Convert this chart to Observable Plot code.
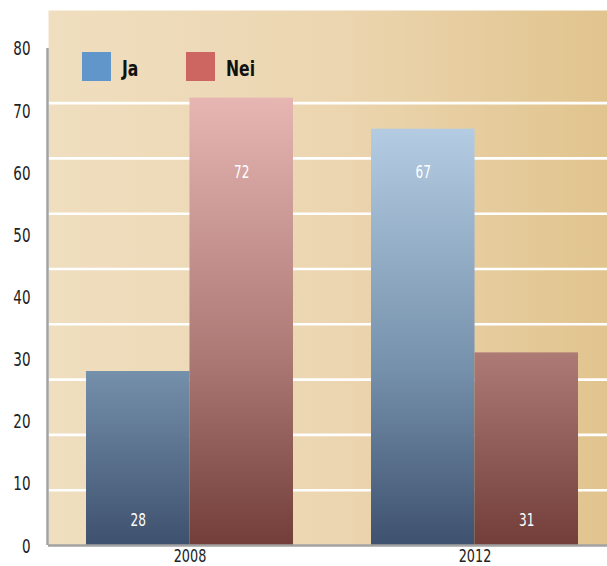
<!DOCTYPE html>
<html>
<head>
<meta charset="utf-8">
<script src="https://cdn.jsdelivr.net/npm/d3@7"></script>
<script src="https://cdn.jsdelivr.net/npm/@observablehq/plot@0.6"></script>
<style>
  body { margin: 0; background: #fff; }
  #wrap { position: relative; width: 607px; height: 566px; font-family: "Liberation Sans Narrow", "DejaVu Sans Condensed", "Arial Narrow", sans-serif; }
  #legend { position: absolute; left: 82px; top: 50px; display: flex; align-items: center; }
  .item { display: flex; align-items: center; margin-right: 44px; }
  .sw { width: 29px; height: 29px; margin-right: 11px; }
  .lab { display: inline-block; font-weight: bold; font-size: 22px; color: #111; line-height: 29px; padding-top: 4px; width: 20px; white-space: nowrap; transform: scaleX(0.79); transform-origin: left center; }
</style>
</head>
<body>
<div id="wrap"></div>
<script>
// ---- data ----
const years = ["2008", "2012"];
const series = ["Ja", "Nei"];
const jaValues = [28, 67];
const neiValues = [72, 31];
const yTicks = [0, 10, 20, 30, 40, 50, 60, 70, 80];
const gridValues = [8.9, 17.8, 26.7, 35.6, 44.5, 53.4, 62.3, 71.2];
const legendColors = ["#6096ca", "#cd6661"];

const rows = years.flatMap((yr, i) => [
  {year: yr, series: "Ja", value: jaValues[i]},
  {year: yr, series: "Nei", value: neiValues[i]}
]);

const W = 607, H = 566;
const mL = 48, mR = 0, mT = 10, mB = 21;
const xOpts = {type: "band", domain: years, range: [mL, W - mR], paddingInner: 0.274, paddingOuter: 0.1175, align: 0.56};
let bw = Plot.scale({x: xOpts}).bandwidth;
if (!bw) bw = d3.scaleBand(years, [mL, W - mR]).paddingInner(0.274).paddingOuter(0.1175).align(0.56).bandwidth();
const half = bw / 2;

const font = '"Liberation Sans Narrow", "DejaVu Sans Condensed", "Arial Narrow", sans-serif';

function defsMark(index, scales) {
  const y = (v) => scales && scales.y ? scales.y(v) : (H - mB) - v * 497 / 80;
  const top = y(d3.max(rows, d => d.value)), bot = y(0);
  const defs = d3.create("svg:defs");
  const bg = defs.append("linearGradient").attr("id", "bgGrad").attr("x1", 0).attr("x2", 1).attr("y1", 0).attr("y2", 0);
  [[0, "#efdebf"], [0.5, "#ecd6b1"], [1, "#e1c48e"]].forEach(([o, c]) => bg.append("stop").attr("offset", o).attr("stop-color", c));
  const mk = (id, stops) => {
    const g = defs.append("linearGradient").attr("id", id).attr("gradientUnits", "userSpaceOnUse")
      .attr("x1", 0).attr("x2", 0).attr("y1", top).attr("y2", bot);
    stops.forEach(([v, c]) => g.append("stop").attr("offset", (y(v) - top) / (bot - top)).attr("stop-color", c));
  };
  mk("gradJa", [[72, "#bcd4ea"], [28, "#7590ab"], [0, "#3e516e"]]);
  mk("gradNei", [[72, "#e7b6b2"], [31, "#ad7a76"], [0, "#733e39"]]);
  return defs.node();
}

function axisLine(index, scales) {
  const y = (v) => scales && scales.y ? scales.y(v) : (H - mB) - v * 497 / 80;
  const g = d3.create("svg:line")
    .attr("x1", mL - 0.5).attr("x2", mL - 0.5)
    .attr("y1", y(d3.max(yTicks))).attr("y2", y(0))
    .attr("stroke", "#a2a2a2").attr("stroke-width", 2.5);
  return g.node();
}

const labelY = d => d.value > 50 ? 60 : 4;

const plot = Plot.plot({
  width: W, height: H,
  marginLeft: mL, marginRight: mR, marginTop: mT, marginBottom: mB,
  style: {fontFamily: font, fontSize: "19px", color: "#222", background: "transparent", overflow: "visible"},
  x: {...xOpts, label: null},
  y: {domain: [0, 86.1], label: null},
  marks: [
    defsMark,
    Plot.frame({fill: "url(#bgGrad)", stroke: "none"}),
    Plot.ruleY(gridValues, {stroke: "#ffffff", strokeWidth: 2.6}),
    Plot.barY(rows.filter(d => d.series === "Ja"), {x: "year", y: "value", fill: "url(#gradJa)", insetRight: half}),
    Plot.barY(rows.filter(d => d.series === "Nei"), {x: "year", y: "value", fill: "url(#gradNei)", insetLeft: half}),
    Plot.text(rows.filter(d => d.series === "Ja"), {x: "year", y: labelY, text: d => String(d.value), dx: -half / 2, fill: "white", fontSize: 17}),
    Plot.text(rows.filter(d => d.series === "Nei"), {x: "year", y: labelY, text: d => String(d.value), dx: half / 2, fill: "white", fontSize: 17}),
    Plot.ruleY([0], {stroke: "#a2a2a2", strokeWidth: 2.5}),
    axisLine,
    Plot.axisY({ticks: yTicks, tickSize: 0, tickPadding: 18, label: null, fontSize: 19, dy: 1}),
    Plot.axisX({tickSize: 0, tickPadding: 4, label: null, fontSize: 18})
  ]
});

const wrap = document.getElementById("wrap");
wrap.appendChild(plot);
// condense glyphs horizontally to mimic the condensed typeface of the original
plot.querySelectorAll("text").forEach(t => {
  const len = t.getComputedTextLength();
  if (len > 0) {
    t.setAttribute("textLength", (len * 0.79).toFixed(2));
    t.setAttribute("lengthAdjust", "spacingAndGlyphs");
  }
});
const legend = document.createElement("div");
legend.id = "legend";
series.forEach((s, i) => {
  const it = document.createElement("div");
  it.className = "item";
  const sw = document.createElement("div");
  sw.className = "sw";
  sw.style.background = legendColors[i];
  const lb = document.createElement("span");
  lb.className = "lab";
  lb.textContent = s;
  it.appendChild(sw); it.appendChild(lb);
  legend.appendChild(it);
});
wrap.appendChild(legend);
</script>
</body>
</html>
